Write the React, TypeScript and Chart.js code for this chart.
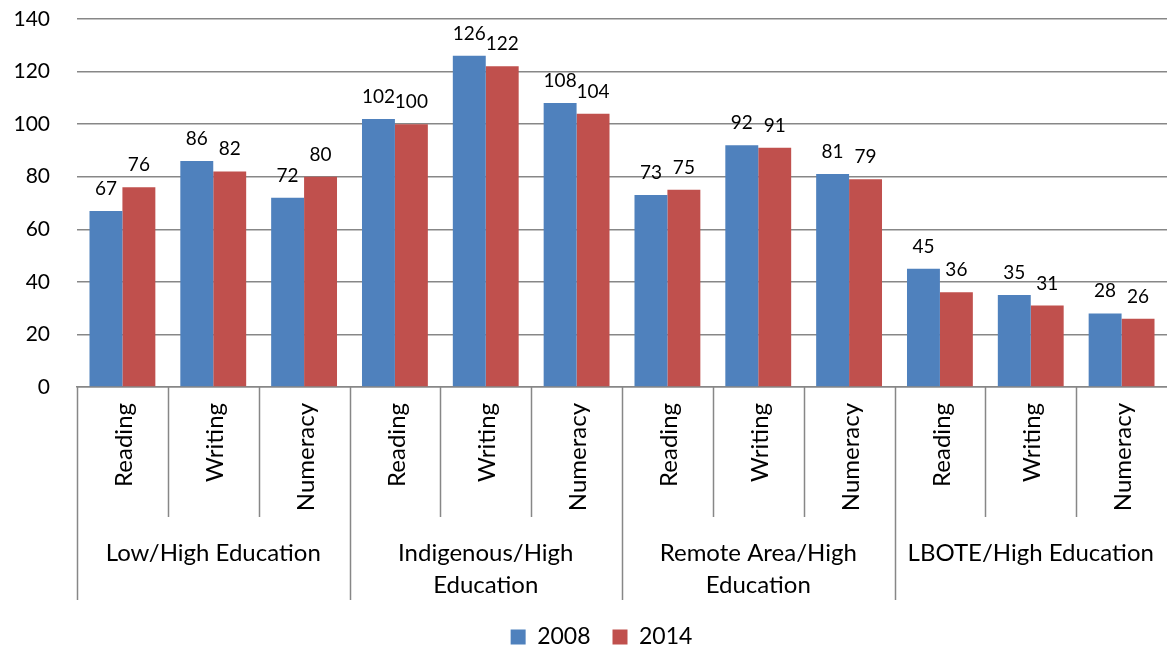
import React, { useEffect, useRef } from "react";
import { Chart, registerables } from "chart.js";

Chart.register(...registerables);

const subjects = ["Reading", "Writing", "Numeracy", "Reading", "Writing", "Numeracy", "Reading", "Writing", "Numeracy", "Reading", "Writing", "Numeracy"];
const groups = [["Low/High Education"], ["Indigenous/High", "Education"], ["Remote Area/High", "Education"], ["LBOTE/High Education"]];
const values2008 = [67, 86, 72, 102, 126, 108, 73, 92, 81, 45, 35, 28];
const values2014 = [76, 82, 80, 100, 122, 104, 75, 91, 79, 36, 31, 26];
const yTicks = [0, 20, 40, 60, 80, 100, 120, 140];

const FONT = "Lato, 'Liberation Sans', sans-serif";
const LINE = "#878787";
const AXIS_Y = 387;
const LEGEND_PAD = 22;
const LEGEND_FONT = 23;

// Value labels above each bar
const valueLabels = {
  id: "valueLabels",
  afterDatasetsDraw(chart: any) {
    const ctx = chart.ctx;
    ctx.save();
    ctx.font = `19px ${FONT}`;
    ctx.fillStyle = "#000";
    ctx.textAlign = "center";
    ctx.textBaseline = "alphabetic";
    chart.data.datasets.forEach((ds: any, di: number) => {
      const meta = chart.getDatasetMeta(di);
      meta.data.forEach((bar: any, i: number) => {
        ctx.fillText(String(ds.data[i]), bar.x, bar.y - 16);
      });
    });
    ctx.restore();
  },
};

// Legend sits a little lower and right of the canvas centre line
const legendShift = {
  id: "legendShift",
  afterLayout(chart: any) {
    const lg = chart.legend;
    if (!lg) return;
    const dy = 637 - (lg.top + LEGEND_PAD + LEGEND_FONT / 2);
    lg.top += dy;
    lg.bottom += dy;
    lg.left += 18;
    lg.right += 18;
  },
};

// Two-level category axis: rotated subject names, group names and separators
const groupedAxis = {
  id: "groupedAxis",
  afterDraw(chart: any) {
    const ctx = chart.ctx;
    const x = chart.scales.x;
    const area = chart.chartArea;
    const n = subjects.length;
    const w = (area.right - area.left) / n;
    const axisY = area.bottom;
    ctx.save();
    ctx.strokeStyle = LINE;
    ctx.lineWidth = 1.5;
    for (let i = 0; i < n; i++) {
      const left = Math.round(x.getPixelForValue(i) - w / 2) + 0.5;
      const isGroupEdge = i % 3 === 0;
      ctx.beginPath();
      ctx.moveTo(left, axisY);
      ctx.lineTo(left, isGroupEdge ? axisY + 213 : axisY + 130);
      ctx.stroke();
    }
    ctx.fillStyle = "#000";
    ctx.font = `24px ${FONT}`;
    subjects.forEach((s, i) => {
      const cx = x.getPixelForValue(i);
      ctx.save();
      ctx.translate(cx + 2, axisY + 16);
      ctx.rotate(-Math.PI / 2);
      ctx.textAlign = "right";
      ctx.textBaseline = "middle";
      ctx.fillText(s, 0, 0);
      ctx.restore();
    });
    ctx.textAlign = "center";
    ctx.textBaseline = "middle";
    groups.forEach((lines, g) => {
      const cx = (x.getPixelForValue(g * 3) + x.getPixelForValue(g * 3 + 2)) / 2;
      lines.forEach((t, li) => {
        ctx.fillText(t, cx, axisY + 166 + li * 32);
      });
    });
    ctx.restore();
  },
};

export default function App() {
  const ref = useRef<HTMLCanvasElement | null>(null);
  useEffect(() => {
    if (!ref.current) return;
    const chart = new Chart(ref.current, {
      type: "bar",
      data: {
        labels: subjects,
        datasets: [
          { label: "2008", data: values2008, backgroundColor: "#4F81BD", barPercentage: 1, categoryPercentage: 0.725 },
          { label: "2014", data: values2014, backgroundColor: "#C0504D", barPercentage: 1, categoryPercentage: 0.725 },
        ],
      },
      options: {
        responsive: false,
        animation: false,
        layout: { padding: { top: 19, left: 0, right: 0, bottom: 0 } },
        plugins: {
          tooltip: { enabled: false },
          legend: {
            position: "bottom",
            labels: {
              boxWidth: 15,
              boxHeight: 15,
              padding: LEGEND_PAD,
              color: "#000",
              font: { family: FONT, size: LEGEND_FONT },
            },
          },
        },
        scales: {
          x: {
            ticks: { display: false },
            grid: { display: false },
            border: { display: true, color: LINE, width: 1.5 },
            afterFit(scale: any) {
              const legendH = scale.chart.legend ? scale.chart.legend.height : 0;
              scale.height = scale.chart.height - AXIS_Y - legendH;
            },
          },
          y: {
            min: 0,
            max: 140,
            afterBuildTicks(scale: any) {
              scale.ticks = yTicks.map((v) => ({ value: v }));
            },
            ticks: { color: "#000", font: { family: FONT, size: 21 }, padding: 27 },
            grid: { color: LINE, lineWidth: 1.5, drawTicks: false },
            border: { display: false },
            afterFit(scale: any) {
              scale.width = 77;
              scale.paddingTop = 0;
              scale.paddingBottom = 0;
            },
          },
        },
      },
      plugins: [valueLabels, groupedAxis, legendShift],
    });
    return () => chart.destroy();
  }, []);
  return (
    <div style={{ position: "fixed", left: 0, top: 0, width: 1167, height: 650, background: "#fff" }}>
      <canvas ref={ref} width={1167} height={650} />
    </div>
  );
}
